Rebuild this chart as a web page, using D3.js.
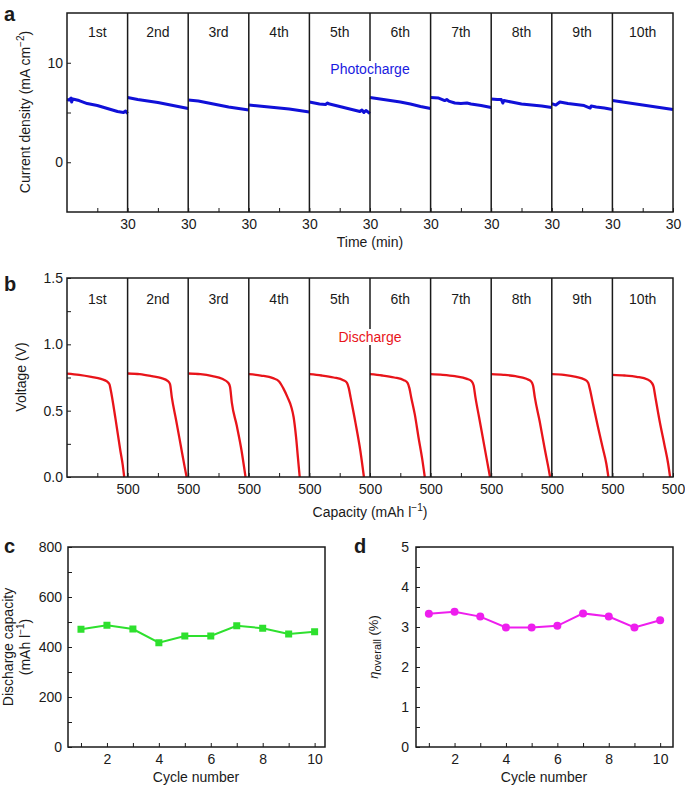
<!DOCTYPE html>
<html>
<head>
<meta charset="utf-8">
<script src="https://d3js.org/d3.v7.min.js"></script>
<style>
  body { margin: 0; background: #fff; }
  text { font-family: "Liberation Sans", Arial, Helvetica, sans-serif; fill: #1a1a1a; }
  .tick line { stroke: #1a1a1a; stroke-width: 1; }
  .tick text { font-size: 14px; }
</style>
</head>
<body>
<script>
const w = 685;
const h = 787;

const cycleNames = ["1st", "2nd", "3rd", "4th", "5th", "6th", "7th", "8th", "9th", "10th"];

// panel a: time (min) vs current density, one array per cycle
const photo1 = [[0,6.3],[1,6.25],[2,6.45],[2.3,6.05],[2.8,6.35],[6,6.2],[10,5.9],[15,5.7],[20,5.4],[25,5.1],[28,5.0],[29,5.15],[30,4.9]];
const photo2 = [[0,6.5],[5,6.3],[10,6.15],[15,6.0],[20,5.8],[25,5.6],[30,5.4]];
const photo3 = [[0,6.25],[5,6.15],[10,5.95],[15,5.75],[20,5.55],[25,5.4],[30,5.25]];
const photo4 = [[0,5.75],[5,5.65],[10,5.55],[15,5.45],[20,5.35],[25,5.2],[30,5.05]];
const photo5 = [[0,6.05],[5,5.85],[8,5.8],[9,5.95],[10,5.85],[15,5.6],[20,5.35],[25,5.1],[26,5.25],[27,5.0],[28,5.2],[30,4.9]];
const photo6 = [[0,6.5],[5,6.35],[10,6.2],[15,6.05],[20,5.85],[25,5.6],[30,5.4]];
const photo7 = [[0,6.5],[4,6.45],[7,6.2],[8,6.3],[9,6.15],[12,5.95],[15,5.9],[18,5.95],[20,5.85],[25,5.7],[30,5.5]];
const photo8 = [[0,6.35],[3,6.3],[5,6.3],[5.8,5.95],[6.3,6.2],[10,6.05],[15,5.85],[20,5.75],[25,5.65],[30,5.5]];
const photo9 = [[0,5.9],[2,5.75],[4,6.05],[8,5.9],[12,5.8],[16,5.7],[19,5.45],[19.5,5.65],[22,5.55],[26,5.45],[30,5.3]];
const photo10 = [[0,6.2],[5,6.05],[10,5.9],[15,5.75],[20,5.6],[25,5.45],[30,5.3]];
const photoCycles = [photo1, photo2, photo3, photo4, photo5, photo6, photo7, photo8, photo9, photo10];

// panel b: capacity (mAh/l) vs voltage, one array per cycle
const dis1 = [[0,0.78],[100,0.77],[200,0.755],[280,0.74],[330,0.72],[350,0.70],[360,0.66],[400,0.44],[440,0.2],[460,0.09],[472,0]];
const dis2 = [[0,0.78],[100,0.775],[200,0.76],[280,0.745],[330,0.725],[350,0.70],[365,0.6],[400,0.43],[440,0.23],[470,0.08],[487,0]];
const dis3 = [[0,0.78],[100,0.775],[200,0.76],[280,0.74],[330,0.71],[345,0.68],[360,0.56],[400,0.39],[440,0.2],[473,0]];
const dis4 = [[0,0.775],[100,0.765],[200,0.745],[250,0.72],[284,0.67],[320,0.6],[350,0.53],[370,0.45],[390,0.3],[405,0.15],[420,0]];
const dis5 = [[0,0.775],[100,0.765],[200,0.75],[280,0.73],[310,0.71],[325,0.67],[340,0.6],[380,0.41],[420,0.2],[450,0]];
const dis6 = [[0,0.775],[100,0.765],[200,0.75],[280,0.73],[310,0.71],[325,0.67],[340,0.6],[370,0.47],[400,0.3],[430,0.14],[452,0]];
const dis7 = [[0,0.775],[100,0.77],[200,0.76],[300,0.74],[340,0.72],[355,0.69],[370,0.6],[400,0.45],[440,0.25],[470,0.1],[490,0]];
const dis8 = [[0,0.775],[100,0.77],[200,0.76],[290,0.74],[330,0.72],[345,0.69],[360,0.6],[400,0.42],[440,0.22],[470,0.08],[486,0]];
const dis9 = [[0,0.775],[100,0.77],[200,0.755],[270,0.735],[300,0.71],[315,0.66],[340,0.55],[380,0.38],[420,0.22],[450,0.1],[467,0]];
const dis10 = [[0,0.77],[100,0.765],[200,0.755],[290,0.735],[325,0.71],[340,0.68],[355,0.6],[390,0.42],[430,0.24],[460,0.1],[476,0]];
const disCycles = [dis1, dis2, dis3, dis4, dis5, dis6, dis7, dis8, dis9, dis10];

// panels c and d
const cycleNumbers = [1, 2, 3, 4, 5, 6, 7, 8, 9, 10];
const dischargeCapacity = [471, 487, 472, 417, 444, 444, 485, 475, 452, 461];
const etaOverall = [3.33, 3.38, 3.26, 2.99, 2.99, 3.03, 3.34, 3.26, 2.99, 3.17];

const tDur = 30;     // min per cycle
const capSpan = 500; // mAh/l per cycle window

const svg = d3.select("body")
           .append("svg")
           .attr("width", w)
           .attr("height", h);

function frame(x0, y0, x1, y1) {
  svg.append("rect")
     .attr("x", x0).attr("y", y0)
     .attr("width", x1 - x0).attr("height", y1 - y0)
     .attr("fill", "none")
     .attr("stroke", "#1a1a1a")
     .attr("stroke-width", 1.5);
}

function panelLetter(t, x, y) {
  svg.append("text")
     .attr("x", x).attr("y", y)
     .attr("font-size", 20)
     .attr("font-weight", "bold")
     .text(t);
}

function labelWithBg(t, x, y, color) {
  const g = svg.append("g");
  const rect = g.append("rect").attr("fill", "#fff");
  const txt = g.append("text")
     .attr("x", x).attr("y", y)
     .attr("text-anchor", "middle")
     .attr("font-size", 14)
     .style("fill", color)
     .text(t);
  const bb = txt.node().getBBox();
  rect.attr("x", bb.x - 1).attr("y", bb.y).attr("width", bb.width + 2).attr("height", bb.height);
}

// ---------- panel a ----------
const xA = d3.scaleLinear().domain([0, tDur * 10]).range([67, 673]);
const yA = d3.scaleLinear().domain([-5, 15]).range([212, 13]);

const xAxisA = d3.axisBottom(xA)
                .tickValues(d3.range(15, tDur * 10 + 1, 15))
                .tickFormat(d => d % tDur === 0 ? String(tDur) : "")
                .tickSizeInner(-4).tickSizeOuter(0).tickPadding(7);
const yAxisA = d3.axisLeft(yA)
                .tickValues([0, 5, 10])
                .tickFormat(d => d === 5 ? "" : d)
                .tickSizeInner(-4).tickSizeOuter(0).tickPadding(4);

svg.append("g").attr("transform", "translate(0,212)").call(xAxisA).call(g => g.select(".domain").remove());
svg.append("g").attr("transform", "translate(67,0)").call(yAxisA).call(g => g.select(".domain").remove());

const lineA = d3.line().x(d => xA(d[0])).y(d => yA(d[1]));
photoCycles.forEach((c, i) => {
  svg.append("path")
     .attr("d", lineA(c.map(p => [p[0] + i * tDur, p[1]])))
     .attr("fill", "none")
     .attr("stroke", "#1010d8")
     .attr("stroke-width", 3)
     .attr("stroke-linejoin", "round");
});

d3.range(1, 10).forEach(k => {
  svg.append("line")
     .attr("x1", xA(k * tDur)).attr("x2", xA(k * tDur))
     .attr("y1", 13).attr("y2", 212)
     .attr("stroke", "#1a1a1a").attr("stroke-width", 1.5);
});
frame(67, 13, 673, 212);

cycleNames.forEach((n, i) => {
  svg.append("text")
     .attr("x", xA(i * tDur + tDur / 2)).attr("y", 37)
     .attr("text-anchor", "middle").attr("font-size", 14)
     .text(n);
});
labelWithBg("Photocharge", xA(5 * tDur), 74, "#1a1ae0");

svg.append("text")
   .attr("x", 370).attr("y", 247)
   .attr("text-anchor", "middle").attr("font-size", 14)
   .text("Time (min)");

const yLabA = svg.append("text")
   .attr("transform", "translate(30,112) rotate(-90)")
   .attr("text-anchor", "middle").attr("font-size", 14);
yLabA.append("tspan").text("Current density (mA cm");
yLabA.append("tspan").attr("font-size", 10).attr("dy", -6).text("−2");
yLabA.append("tspan").attr("dy", 6).text(")");

panelLetter("a", 4, 21);

// ---------- panel b ----------
const xB = d3.scaleLinear().domain([0, capSpan * 10]).range([67, 673]);
const yB = d3.scaleLinear().domain([0, 1.5]).range([477, 278]);

const xAxisB = d3.axisBottom(xB)
                .tickValues(d3.range(250, capSpan * 10 + 1, 250))
                .tickFormat(d => d % capSpan === 0 ? String(capSpan) : "")
                .tickSizeInner(-4).tickSizeOuter(0).tickPadding(7);
const yAxisB = d3.axisLeft(yB)
                .tickValues([0, 0.25, 0.5, 0.75, 1.0, 1.25, 1.5])
                .tickFormat(d => (d * 2) % 1 === 0 ? d.toFixed(1) : "")
                .tickSizeInner(-4).tickSizeOuter(0).tickPadding(4);

svg.append("g").attr("transform", "translate(0,477)").call(xAxisB).call(g => g.select(".domain").remove());
svg.append("g").attr("transform", "translate(67,0)").call(yAxisB).call(g => g.select(".domain").remove());

const lineB = d3.line().x(d => xB(d[0])).y(d => yB(d[1])).curve(d3.curveMonotoneX);
disCycles.forEach((c, i) => {
  svg.append("path")
     .attr("d", lineB(c.map(p => [p[0] + i * capSpan, p[1]])))
     .attr("fill", "none")
     .attr("stroke", "#e8141a")
     .attr("stroke-width", 2.3);
});

d3.range(1, 10).forEach(k => {
  svg.append("line")
     .attr("x1", xB(k * capSpan)).attr("x2", xB(k * capSpan))
     .attr("y1", 278).attr("y2", 477)
     .attr("stroke", "#1a1a1a").attr("stroke-width", 1.5);
});
frame(67, 278, 673, 477);

cycleNames.forEach((n, i) => {
  svg.append("text")
     .attr("x", xB(i * capSpan + capSpan / 2)).attr("y", 304)
     .attr("text-anchor", "middle").attr("font-size", 14)
     .text(n);
});
labelWithBg("Discharge", xB(5 * capSpan), 342, "#e8141a");

const xLabB = svg.append("text")
   .attr("x", 370).attr("y", 517)
   .attr("text-anchor", "middle").attr("font-size", 14);
xLabB.append("tspan").text("Capacity (mAh l");
xLabB.append("tspan").attr("font-size", 10).attr("dy", -6).text("−1");
xLabB.append("tspan").attr("dy", 6).text(")");

svg.append("text")
   .attr("transform", "translate(26,377) rotate(-90)")
   .attr("text-anchor", "middle").attr("font-size", 14)
   .text("Voltage (V)");

panelLetter("b", 4, 291);

// ---------- panel c ----------
const xC = d3.scaleLinear().domain([0.5, 10.4]).range([68, 325]);
const yC = d3.scaleLinear().domain([0, 800]).range([747, 547]);

const xAxisC = d3.axisBottom(xC)
                .tickValues(cycleNumbers)
                .tickFormat(d => d % 2 === 0 ? d : "")
                .tickSizeInner(-4).tickSizeOuter(0).tickPadding(7);
const yAxisC = d3.axisLeft(yC)
                .tickValues(d3.range(0, 801, 100))
                .tickFormat(d => d % 200 === 0 ? d : "")
                .tickSizeInner(-4).tickSizeOuter(0).tickPadding(6);

svg.append("g").attr("transform", "translate(0,747)").call(xAxisC).call(g => g.select(".domain").remove());
svg.append("g").attr("transform", "translate(68,0)").call(yAxisC).call(g => g.select(".domain").remove());
frame(68, 547, 325, 747);

svg.append("path")
   .attr("d", d3.line().x((d, i) => xC(cycleNumbers[i])).y(d => yC(d))(dischargeCapacity))
   .attr("fill", "none")
   .attr("stroke", "#2ee02e")
   .attr("stroke-width", 2);

svg.selectAll(".sq")
   .data(dischargeCapacity)
   .enter()
   .append("rect")
   .attr("class", "sq")
   .attr("x", (d, i) => xC(cycleNumbers[i]) - 3.5)
   .attr("y", d => yC(d) - 3.5)
   .attr("width", 7).attr("height", 7)
   .attr("fill", "#2ee02e");

svg.append("text")
   .attr("x", 196).attr("y", 782)
   .attr("text-anchor", "middle").attr("font-size", 14)
   .text("Cycle number");

const yLabC = svg.append("g").attr("transform", "translate(0,647) rotate(-90)");
yLabC.append("text")
   .attr("x", 0).attr("y", 13)
   .attr("text-anchor", "middle").attr("font-size", 14)
   .text("Discharge capacity");
const yLabC2 = yLabC.append("text")
   .attr("x", 0).attr("y", 30)
   .attr("text-anchor", "middle").attr("font-size", 14);
yLabC2.append("tspan").text("(mAh l");
yLabC2.append("tspan").attr("font-size", 10).attr("dy", -6).text("−1");
yLabC2.append("tspan").attr("dy", 6).text(")");

panelLetter("c", 4, 553);

// ---------- panel d ----------
const xD = d3.scaleLinear().domain([0.5, 10.5]).range([416, 673]);
const yD = d3.scaleLinear().domain([0, 5]).range([747, 547]);

const xAxisD = d3.axisBottom(xD)
                .tickValues(cycleNumbers)
                .tickFormat(d => d % 2 === 0 ? d : "")
                .tickSizeInner(-4).tickSizeOuter(0).tickPadding(7);
const yAxisD = d3.axisLeft(yD)
                .tickValues(d3.range(0, 5.01, 0.5))
                .tickFormat(d => d % 1 === 0 ? d : "")
                .tickSizeInner(-4).tickSizeOuter(0).tickPadding(7);

svg.append("g").attr("transform", "translate(0,747)").call(xAxisD).call(g => g.select(".domain").remove());
svg.append("g").attr("transform", "translate(416,0)").call(yAxisD).call(g => g.select(".domain").remove());
frame(416, 547, 673, 747);

svg.append("path")
   .attr("d", d3.line().x((d, i) => xD(cycleNumbers[i])).y(d => yD(d))(etaOverall))
   .attr("fill", "none")
   .attr("stroke", "#ee1eee")
   .attr("stroke-width", 2);

svg.selectAll(".dot")
   .data(etaOverall)
   .enter()
   .append("circle")
   .attr("class", "dot")
   .attr("cx", (d, i) => xD(cycleNumbers[i]))
   .attr("cy", d => yD(d))
   .attr("r", 4)
   .attr("fill", "#ee1eee");

svg.append("text")
   .attr("x", 544).attr("y", 782)
   .attr("text-anchor", "middle").attr("font-size", 14)
   .text("Cycle number");

const yLabD = svg.append("text")
   .attr("transform", "translate(378,647) rotate(-90)")
   .attr("text-anchor", "middle").attr("font-size", 13);
yLabD.append("tspan").attr("font-style", "italic").text("η");
yLabD.append("tspan").attr("font-size", 11).attr("dy", 3).text("overall");
yLabD.append("tspan").attr("dy", -3).text(" (%)");

panelLetter("d", 354, 553);
</script>
</body>
</html>
